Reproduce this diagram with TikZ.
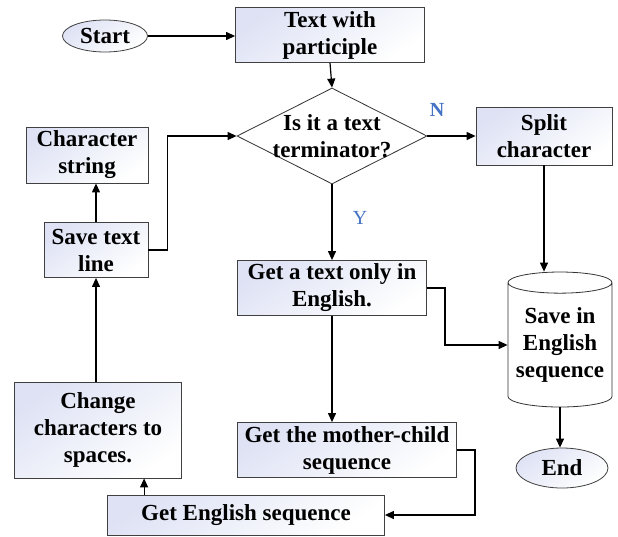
\documentclass[tikz,border=0pt]{standalone}
\usepackage{fontspec}
\setmainfont{Liberation Serif}[BoldFont={Liberation Serif Bold}]
\newfontfamily\boxfont{Liberation Serif}[UprightFont={* Bold}]
\usetikzlibrary{arrows.meta,shapes.geometric}
\definecolor{boxtint}{RGB}{222,226,244}
\definecolor{labelblue}{RGB}{68,114,196}
\tikzset{
	stepbox/.style={draw=black!75, line width=0.8pt, rectangle, align=center,
		font=\boxfont\fontsize{23}{27}\selectfont, inner sep=0pt,
		top color=boxtint, bottom color=white, shading angle=35},
	terminal/.style={stepbox, ellipse},
	decision/.style={draw=black!80, line width=0.8pt, diamond, inner sep=0pt, fill=white},
	store/.style={draw=black!80, line width=0.8pt, cylinder, shape border rotate=90,
		aspect=0.24, align=center, inner sep=0pt, fill=white,
		font=\boxfont\fontsize{23}{27}\selectfont},
	flow/.style={line width=1.2pt, -{Triangle[length=9pt,width=8pt]}},
	yn/.style={text=labelblue, font=\rmfamily\fontsize{20}{24}\selectfont}
}
\begin{document}
\begin{tikzpicture}[x=1pt, y=-1pt]
	\useasboundingbox (0,0) rectangle (618,536);
	
	%%%%% NODES %%%%%
	\node[terminal, minimum width=85pt, minimum height=32pt] (start) at (105,36) {Start};
	\node[stepbox, minimum width=189pt, minimum height=55pt] (text) at (330,35) {Text with\\participle};
	\node[decision, minimum width=190pt, minimum height=96pt,
		label={[align=center, font=\boxfont\fontsize{23}{27}\selectfont]center:Is it a text\\terminator?}] (term) at (332,136) {};
	\node[stepbox, minimum width=136pt, minimum height=58pt] (split) at (544,136) {Split\\character};
	\node[stepbox, minimum width=122pt, minimum height=56pt] (chars) at (87,155) {Character\\string};
	\node[stepbox, minimum width=104pt, minimum height=55pt] (save) at (96,250) {Save text\\line};
	\node[stepbox, minimum width=189pt, minimum height=55pt] (eng) at (332,288) {Get a text only in\\English.};
	\node[store, minimum width=104pt, minimum height=135pt] (seqstore) at (560,345) {Save in\\English\\sequence};
	\node[stepbox, minimum width=219pt, minimum height=55pt] (mother) at (347,450) {Get the mother-child\\sequence};
	\node[terminal, minimum width=92pt, minimum height=40pt] (end) at (562,468) {End};
	\node[stepbox, minimum width=167pt, minimum height=96pt] (change) at (98,430) {Change\\characters to\\spaces.};
	\node[stepbox, minimum width=277pt, minimum height=40pt] (engseq) at (246,515) {Get English sequence};
	
	\node[yn, font=\boxfont\fontsize{20}{24}\selectfont] (nlab) at (437,110) {N};
	\node[yn] (ylab) at (360,218) {Y};
	
	%%%%% ARROWS %%%%%
	\draw[flow] (start.east) -- (start.east -| text.west);
	\draw[flow] (text.south) -- (term.north);
	\draw[flow] (term.east) -- (split.west);
	\draw[flow] (split.south) -- (split.south |- seqstore.north);
	\draw[flow] (term.south) -- (eng.north);
	\draw[flow] (eng.east) -- ++(18,0) |- (seqstore.west);
	\draw[flow] (eng.south) -- (eng.south |- mother.north);
	\draw[flow] (mother.east) -- ++(18,0) |- (engseq.east);
	\draw[flow] (seqstore.south) -- (seqstore.south |- end.north);
	\draw[flow] ([xshift=37pt]engseq.north west) -- ([xshift=37pt]engseq.north west |- change.south);
	\draw[flow] (save.south |- change.north) -- (save.south);
	\draw[flow] (save.north) -- (save.north |- chars.south);
	\draw[flow] (save.east) -- ++(19,0) |- (term.west);
\end{tikzpicture}
\end{document}
